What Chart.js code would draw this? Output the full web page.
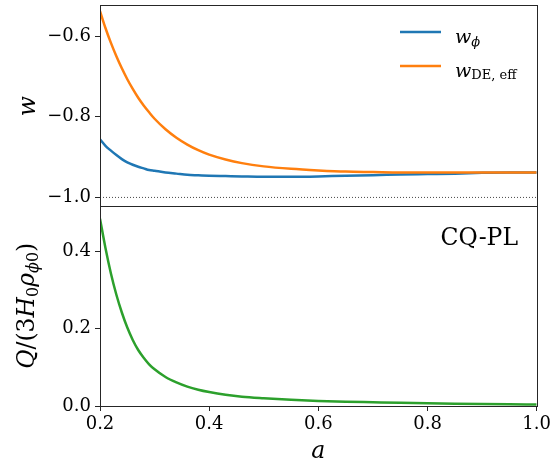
<!DOCTYPE html>
<html>
<head>
<meta charset="utf-8">
<script src="https://cdn.jsdelivr.net/npm/chart.js@4.4.0/dist/chart.umd.min.js"></script>
<style>
html,body{margin:0;padding:0;background:#fff;}
#wrap{width:554px;height:462px;}
</style>
</head>
<body>
<div id="wrap"><canvas id="grafico" width="554" height="462"></canvas></div>
<script>
// valores
const aVals = [0.20,0.21,0.22,0.23,0.24,0.25,0.26,0.27,0.28,0.29,0.30,0.32,0.34,0.36,0.38,0.40,0.43,0.46,0.50,0.55,0.60,0.65,0.70,0.75,0.80,0.85,0.90,0.95,1.00];
const wPhi = [-0.856,-0.872,-0.884,-0.895,-0.905,-0.913,-0.919,-0.924,-0.928,-0.932,-0.934,-0.938,-0.941,-0.944,-0.945,-0.946,-0.947,-0.948,-0.949,-0.949,-0.948,-0.946,-0.945,-0.943,-0.942,-0.941,-0.939,-0.938,-0.938];
const wDE = [-0.538,-0.580,-0.617,-0.650,-0.680,-0.707,-0.731,-0.753,-0.772,-0.789,-0.805,-0.831,-0.852,-0.869,-0.883,-0.894,-0.906,-0.915,-0.923,-0.929,-0.933,-0.936,-0.937,-0.938,-0.938,-0.938,-0.938,-0.938,-0.938];
const qVals = [0.485,0.409,0.343,0.288,0.242,0.203,0.171,0.145,0.125,0.108,0.095,0.075,0.061,0.050,0.042,0.036,0.029,0.024,0.020,0.016,0.013,0.011,0.0097,0.0084,0.0072,0.0061,0.0052,0.0045,0.0040];

// linea punteada w = -1
const refA = [0.2, 1.0];
const refW = [-1.0, -1.0];

const aTicks = [0.2, 0.4, 0.6, 0.8, 1.0];
const wTicks = [-1.0, -0.8, -0.6];
const qTicks = [0.0, 0.2, 0.4];

const colores = { phi: '#1f77b4', de: '#ff7f0e', q: '#2ca02c' };

function pares(xs, ys) {
    return xs.map((x, i) => ({ x: x, y: ys[i] }));
}
function fmt(v) {
    return (v < -1e-9 ? '\u2212' : '') + Math.abs(v).toFixed(1);
}

const SERIF = "'DejaVu Serif'";
const fIt = s => 'italic ' + s + 'px ' + SERIF;
const fUp = s => s + 'px ' + SERIF;

Chart.defaults.font.family = SERIF;
Chart.defaults.font.size = 18;
Chart.defaults.color = '#000';

// texto con subindices: [{t, f, dy}]
function anchoRico(ctx, partes) {
    let w = 0;
    partes.forEach(p => { ctx.font = p.f; w += ctx.measureText(p.t).width; });
    return w;
}
function dibujarRico(ctx, partes, x, y) {
    partes.forEach(p => {
        ctx.font = p.f;
        ctx.fillText(p.t, x, y + (p.dy || 0));
        x += ctx.measureText(p.t).width;
    });
}

const leyenda = [
    { color: colores.phi, partes: [{ t: 'w', f: fIt(19) }, { t: '\u03d5', f: fIt(13), dy: 3.5 }] },
    { color: colores.de, partes: [{ t: 'w', f: fIt(19) }, { t: 'DE, eff', f: fUp(13), dy: 2.5 }] }
];

const tituloQ = [
    { t: 'Q', f: fIt(23.5) },
    { t: '/(3', f: fUp(23.5) },
    { t: 'H', f: fIt(23.5) },
    { t: '0', f: fUp(16), dy: 4 },
    { t: '\u03c1', f: fIt(23.5) },
    { t: '\u03d5', f: fIt(16), dy: 4 },
    { t: '0', f: fUp(16), dy: 4 },
    { t: ')', f: fUp(23.5) }
];

const decoracion = {
    id: 'decoracion',
    afterDraw(chart) {
        const ctx = chart.ctx;
        const ca = chart.chartArea;
        const sW = chart.scales.yW, sQ = chart.scales.yQ;
        ctx.save();
        // marcos de los dos paneles
        ctx.strokeStyle = '#262626';
        ctx.lineWidth = 1;
        [sW, sQ].forEach(s => {
            const l = Math.round(ca.left) + 0.5, r = Math.round(ca.right) + 0.5;
            const t = Math.round(s.top) + 0.5, b = Math.round(s.bottom) + 0.5;
            ctx.strokeRect(l, t, r - l, b - t);
        });
        ctx.fillStyle = '#000';
        ctx.textBaseline = 'alphabetic';
        ctx.textAlign = 'left';
        // leyenda
        leyenda.forEach((it, i) => {
            const y = 32 + i * 34;
            ctx.strokeStyle = it.color;
            ctx.lineWidth = 2.5;
            ctx.beginPath();
            ctx.moveTo(400, y);
            ctx.lineTo(441, y);
            ctx.stroke();
            dibujarRico(ctx, it.partes, 455, y + 10.5);
        });
        // etiqueta del modelo
        ctx.font = fUp(23.5);
        ctx.textAlign = 'right';
        ctx.fillText('CQ-PL', 518, 245);
        ctx.textAlign = 'left';
        // titulo eje x
        const pa = [{ t: 'a', f: fIt(23.5) }];
        const cx = (ca.left + ca.right) / 2;
        dibujarRico(ctx, pa, cx - anchoRico(ctx, pa) / 2, 458);
        // titulos ejes y (rotados)
        const pw = [{ t: 'w', f: fIt(23.5) }];
        ctx.save();
        ctx.translate(35, (sW.top + sW.bottom) / 2 + 1);
        ctx.rotate(-Math.PI / 2);
        dibujarRico(ctx, pw, -anchoRico(ctx, pw) / 2, 0);
        ctx.restore();
        ctx.save();
        ctx.translate(33.5, (sQ.top + sQ.bottom) / 2);
        ctx.rotate(-Math.PI / 2);
        dibujarRico(ctx, tituloQ, -anchoRico(ctx, tituloQ) / 2, 0);
        ctx.restore();
        ctx.restore();
    }
};

const tickFont = { family: SERIF, size: 18 };
const ejeGrid = { drawOnChartArea: false, drawTicks: true, tickLength: 5, color: '#262626', lineWidth: 1 };

function sinRelleno(s) {
    s.paddingTop = 0;
    s.paddingBottom = 0;
}

new Chart(document.getElementById('grafico'), {
    type: 'line',
    data: {
        datasets: [
            { label: 'w_phi', data: pares(aVals, wPhi), borderColor: colores.phi, yAxisID: 'yW', order: 2, cubicInterpolationMode: 'monotone' },
            { label: 'w_DE_eff', data: pares(aVals, wDE), borderColor: colores.de, yAxisID: 'yW', order: 1, cubicInterpolationMode: 'monotone' },
            { label: 'Q', data: pares(aVals, qVals), borderColor: colores.q, yAxisID: 'yQ', order: 1, cubicInterpolationMode: 'monotone' },
            { label: 'ref', data: pares(refA, refW), borderColor: '#333', borderWidth: 0.9, borderDash: [1, 2], yAxisID: 'yW', order: 3 }
        ]
    },
    options: {
        responsive: false,
        animation: false,
        devicePixelRatio: 1,
        layout: { padding: { top: 5, right: 17, left: 0, bottom: 0 } },
        elements: {
            point: { radius: 0 },
            line: { borderWidth: 2.5, fill: false }
        },
        plugins: { legend: { display: false }, tooltip: { enabled: false } },
        scales: {
            x: {
                type: 'linear', min: 0.2, max: 1.0,
                ticks: { font: tickFont, color: '#000', padding: 3, maxRotation: 0, callback: fmt },
                grid: ejeGrid,
                border: { display: false },
                afterBuildTicks: s => { s.ticks = aTicks.map(v => ({ value: v })); },
                afterFit: s => { s.height = 56; }
            },
            yQ: {
                type: 'linear', position: 'left', stack: 'panel', stackWeight: 1, weight: 1,
                min: 0, max: 0.519,
                ticks: { font: tickFont, color: '#000', padding: 4, callback: fmt },
                grid: ejeGrid,
                border: { display: false },
                afterBuildTicks: s => { s.ticks = qTicks.map(v => ({ value: v })); },
                afterFit: s => { s.width = 100; sinRelleno(s); }
            },
            yW: {
                type: 'linear', position: 'left', stack: 'panel', stackWeight: 1, weight: 2,
                min: -1.02, max: -0.523,
                ticks: { font: tickFont, color: '#000', padding: 4, callback: fmt },
                grid: ejeGrid,
                border: { display: false },
                afterBuildTicks: s => { s.ticks = wTicks.map(v => ({ value: v })); },
                afterFit: s => { s.width = 100; sinRelleno(s); }
            }
        }
    },
    plugins: [decoracion]
});
</script>
</body>
</html>
